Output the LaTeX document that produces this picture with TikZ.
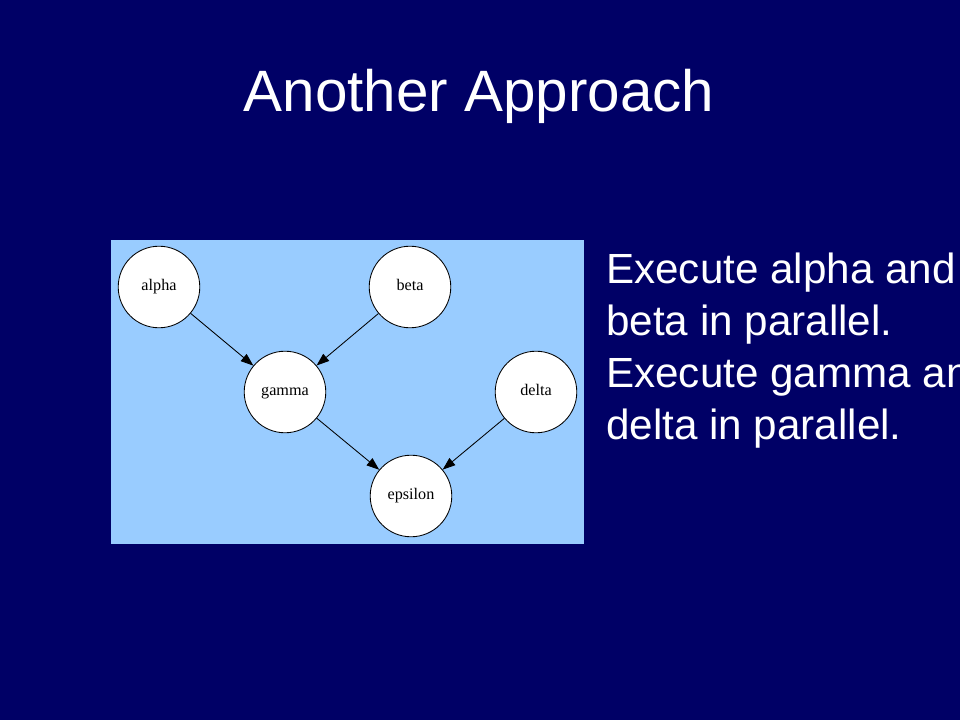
\documentclass[tikz,border=0pt]{standalone}
\usepackage{fontspec}
\setmainfont{Liberation Serif}
\newfontfamily\slidefont{Liberation Sans}
\usetikzlibrary{arrows.meta}
\definecolor{slidebg}{RGB}{0,0,102}
\definecolor{panelblue}{RGB}{153,204,255}
\tikzset{
  task/.style={circle, draw=black, line width=0.6pt, fill=white, minimum size=58pt, inner sep=0pt, text height=1.6ex, text depth=0.4ex, font=\fontsize{11.5}{13}\selectfont},
  dep/.style={-{Triangle[length=9pt,width=6.5pt]}, line width=0.6pt},
  slidetext/.style={white, inner sep=0pt, anchor=base west, font=\slidefont\fontsize{30}{36}\selectfont},
}
\begin{document}
\begin{tikzpicture}[x=0.025cm, y=-0.025cm]
    %background
    \useasboundingbox (0,0) rectangle (960,720);
    \clip (0,0) rectangle (960,720);
    \fill[slidebg] (0,0) rectangle (960,720);

    %title
    \node[white, inner sep=0pt, anchor=base, font=\slidefont\fontsize{41.5}{48}\selectfont] (title) at (479,112) {Another Approach};

    %graph panel
    \fill[panelblue] (111,240) rectangle (584,544);
    \node[task] (alpha) at (159,287) {alpha};
    \node[task] (beta) at (410,287) {beta};
    \node[task] (gamma) at (285,392) {gamma};
    \node[task] (delta) at (536,392) {delta};
    \node[task] (epsilon) at (411,496) {epsilon};

    %dependencies
    \draw[dep] (alpha) -- (gamma);
    \draw[dep] (beta) -- (gamma);
    \draw[dep] (gamma) -- (epsilon);
    \draw[dep] (delta) -- (epsilon);

    %text
    \foreach \n/\y/\t in {1/284/Execute alpha and, 2/336/beta in parallel., 3/388/Execute gamma and, 4/440/delta in parallel.}
      \node[slidetext] (line\n) at (606,\y) {\t};

\end{tikzpicture}
\end{document}
